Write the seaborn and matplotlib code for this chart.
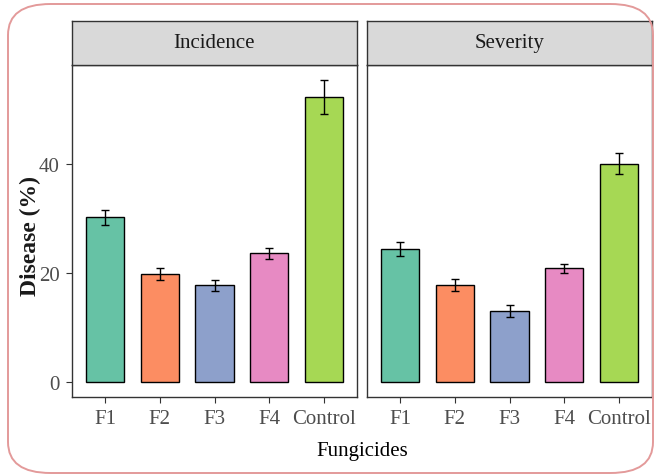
import matplotlib
matplotlib.use("Agg")
import matplotlib.pyplot as plt
from matplotlib.patches import FancyBboxPatch
import pandas as pd
import seaborn as sns

fungicides = ["F1", "F2", "F3", "F4", "Control"]
incidence_mean = [30.2, 19.7, 17.7, 23.6, 52.2]
incidence_se = [1.35, 1.1, 1.0, 1.0, 3.1]
severity_mean = [24.4, 17.8, 13.0, 20.8, 40.0]
severity_se = [1.25, 1.1, 1.05, 0.9, 1.95]
panels = ["Incidence", "Severity"]

sns.set_theme(style="white")
plt.rcParams["font.family"] = ["Liberation Serif", "DejaVu Serif"]

fig = plt.figure(figsize=(6.55, 4.77), dpi=100)
W, H = 655, 477


def px_axes(x0, y0, x1, y1):
    return fig.add_axes([x0 / W, 1 - y1 / H, (x1 - x0) / W, (y1 - y0) / H])


# rounded frame around the whole figure
frame = FancyBboxPatch((8 / W, 3 / H), 645 / W, 469 / H,
                       boxstyle="round,pad=0,rounding_size=0.065",
                       transform=fig.transFigure, fill=False,
                       edgecolor="#E39A9A", linewidth=1.4)
fig.patches.append(frame)

palette = sns.color_palette("Set2", 5)
series = [(incidence_mean, incidence_se), (severity_mean, severity_se)]
xspans = [(72, 357), (367, 652)]

for i, (name, (means, ses)) in enumerate(zip(panels, series)):
    x0, x1 = xspans[i]
    ax = px_axes(x0, 66, x1, 398)
    df = pd.DataFrame({"Fungicides": fungicides, "Disease": means})
    sns.barplot(data=df, x="Fungicides", y="Disease", hue="Fungicides",
                palette=palette, order=fungicides, hue_order=fungicides,
                width=0.7, edgecolor="black", linewidth=1.0, saturation=1,
                errorbar=None, legend=False, ax=ax)
    ax.errorbar(range(len(fungicides)), means, yerr=ses, fmt="none",
                ecolor="black", elinewidth=1.0, capsize=3, capthick=1.0)
    ax.set_xlim(-0.6, 4.6)
    ax.set_ylim(-2.77, 58.1)
    ax.set_yticks([0, 20, 40])
    ax.set_xlabel("")
    ax.set_ylabel("")
    for s in ax.spines.values():
        s.set_color("#333333")
        s.set_linewidth(1.0)
    ax.tick_params(axis="both", which="both", length=4, width=0.8, pad=5,
                   color="#333333", labelcolor="#4D4D4D", labelsize=15,
                   bottom=True, left=(i == 0))
    if i == 1:
        ax.set_yticklabels([])

    # facet strip
    sax = px_axes(x0, 22, x1, 66)
    sax.set_xticks([])
    sax.set_yticks([])
    sax.set_facecolor("#D9D9D9")
    for s in sax.spines.values():
        s.set_color("#333333")
        s.set_linewidth(1.0)
    sax.text(0.5, 0.5, name, ha="center", va="center", fontsize=15,
             color="#1A1A1A", transform=sax.transAxes)

fig.text(362 / W, 1 - 452 / H, "Fungicides", ha="center", va="center",
         fontsize=15, color="black")
fig.text(30 / W, 1 - 236 / H, "Disease (%)", ha="center", va="center",
         fontsize=17, fontweight="bold", rotation=90, color="#1A1A1A")

fig.savefig("out.png", dpi=100)
